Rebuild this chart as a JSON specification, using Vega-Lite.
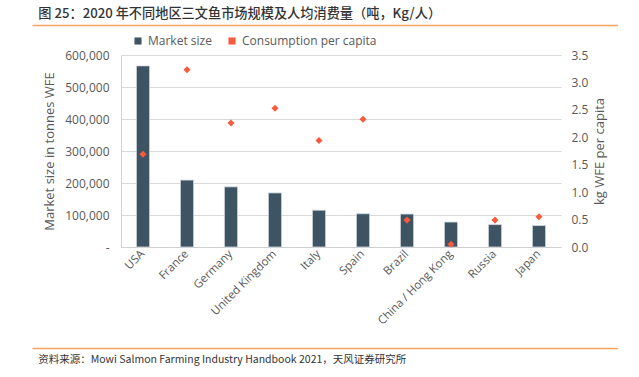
{
  "$schema": "https://vega.github.io/schema/vega-lite/v6.json",
  "background": "white",
  "padding": {"left": 29, "top": 6, "right": 0, "bottom": 0},
  "spacing": 7,
  "config": {"font": "Open Sans", "view": {"stroke": null}},
  "resolve": {"scale": {"x": "independent", "y": "independent", "color": "independent"}, "legend": {"color": "independent"}},
  "vconcat": [
    {
      "width": 586,
      "height": 1,
      "data": {"values": [{"start": 0, "end": 1, "level": 0}]},
      "mark": {"type": "point", "opacity": 0},
      "encoding": {
        "x": {
          "field": "start",
          "type": "quantitative",
          "scale": {"domain": [0, 1]},
          "axis": {"orient": "bottom", "title": null, "labels": false, "ticks": false, "grid": false, "domain": true, "domainColor": "#F5A55F", "domainWidth": 1.5}
        }
      },
      "title": {
        "text": "图 25：2020 年不同地区三文鱼市场规模及人均消费量（吨，Kg/人）",
        "anchor": "start",
        "dx": 9,
        "offset": 1,
        "font": "Noto Sans CJK SC",
        "fontSize": 13.2,
        "fontWeight": 500,
        "color": "#333333"
      }
    },
    {
      "spacing": 10,
      "resolve": {"scale": {"x": "independent", "y": "independent", "color": "independent"}, "legend": {"color": "independent"}},
      "hconcat": [
        {
          "width": 1,
          "height": 1,
          "data": {"values": [{"k": 1}]},
          "mark": {"type": "text", "text": ""},
          "encoding": {}
        },
        {
          "width": 440,
          "height": 192,
          "data": {
            "values": [
              {"country": "USA", "market": 566000, "consumption": 1.69},
              {"country": "France", "market": 209000, "consumption": 3.23},
              {"country": "Germany", "market": 188000, "consumption": 2.26},
              {"country": "United Kingdom", "market": 169000, "consumption": 2.53},
              {"country": "Italy", "market": 115000, "consumption": 1.94},
              {"country": "Spain", "market": 104000, "consumption": 2.33},
              {"country": "Brazil", "market": 103000, "consumption": 0.49},
              {"country": "China / Hong Kong", "market": 78000, "consumption": 0.05},
              {"country": "Russia", "market": 70000, "consumption": 0.49},
              {"country": "Japan", "market": 67000, "consumption": 0.55}
            ]
          },
          "encoding": {
            "x": {
              "field": "country",
              "type": "nominal",
              "sort": null,
              "scale": {"paddingInner": 0, "paddingOuter": 0},
              "axis": {
                "title": null,
                "labelAngle": -45,
                "labelAlign": "right",
                "labelBaseline": "middle",
                "labelFontSize": 11.5,
                "labelColor": "#595959",
                "labelPadding": 5,
                "ticks": false,
                "domainColor": "#d0d0d0",
                "grid": false
              }
            }
          },
          "layer": [
            {
              "mark": {"type": "bar", "width": {"band": 0.3}, "stroke": "#d3dadf", "strokeWidth": 0.8},
              "encoding": {
                "y": {
                  "field": "market",
                  "type": "quantitative",
                  "scale": {"domain": [0, 600000], "nice": false},
                  "axis": {
                    "title": "Market size in tonnes WFE",
                    "titleFont": "Open Sans",
                    "titleFontSize": 13,
                    "titleFontWeight": "normal",
                    "titleColor": "#595959",
                    "titlePadding": 8,
                    "values": [0, 100000, 200000, 300000, 400000, 500000, 600000],
                    "labelExpr": "datum.value == 0 ? '-' : format(datum.value, ',')",
                    "labelFontSize": 12,
                    "labelColor": "#595959",
                    "labelPadding": 12,
                    "ticks": false,
                    "domainColor": "#d0d0d0",
                    "gridColor": "#d9d9d9"
                  }
                },
                "color": {
                  "datum": "Market size",
                  "type": "nominal",
                  "scale": {"domain": ["Market size", "Consumption per capita"], "range": ["#3E5463", "#FA5A3C"]},
                  "legend": {
                    "orient": "none",
                    "legendX": 11,
                    "legendY": -20,
                    "padding": 0,
                    "direction": "horizontal",
                    "title": null,
                    "labelFontSize": 12,
                    "labelColor": "#595959",
                    "labelFont": "Open Sans",
                    "symbolSize": 50,
                    "symbolStrokeWidth": 0,
                    "columnPadding": 14,
                    "labelOffset": 4,
                    "encode": {
                      "symbols": {
                        "update": {
                          "shape": {"signal": "datum.value == 'Market size' ? 'square' : 'diamond'"}
                        }
                      }
                    }
                  }
                }
              }
            },
            {
              "mark": {"type": "point", "shape": "diamond", "filled": true, "size": 50, "opacity": 1},
              "encoding": {
                "y": {
                  "field": "consumption",
                  "type": "quantitative",
                  "scale": {"domain": [0, 3.5], "nice": false},
                  "axis": {
                    "orient": "right",
                    "title": "kg WFE per capita",
                    "titleAngle": 270,
                    "titleBaseline": "top",
                    "titleFont": "Open Sans",
                    "titleFontSize": 13,
                    "titleFontWeight": "normal",
                    "titleColor": "#595959",
                    "titlePadding": 6,
                    "values": [0, 0.5, 1, 1.5, 2, 2.5, 3, 3.5],
                    "format": ".1f",
                    "labelFontSize": 12,
                    "labelColor": "#595959",
                    "labelPadding": 10,
                    "ticks": false,
                    "domain": false,
                    "grid": false
                  }
                },
                "color": {"datum": "Consumption per capita", "type": "nominal"}
              }
            }
          ],
          "resolve": {"scale": {"y": "independent"}}
        }
      ]
    },
    {
      "width": 586,
      "height": 14,
      "data": {"values": [{"start": 0, "end": 1, "level": 0}]},
      "mark": {"type": "point", "opacity": 0},
      "encoding": {
        "x": {
          "field": "start",
          "type": "quantitative",
          "scale": {"domain": [0, 1]},
          "axis": {"orient": "bottom", "title": null, "labels": false, "ticks": false, "grid": false, "domain": true, "domainColor": "#F5A55F", "domainWidth": 1.5}
        }
      },
      "title": {
        "text": "资料来源：Mowi Salmon Farming Industry Handbook 2021，天风证券研究所",
        "orient": "bottom",
        "anchor": "start",
        "dx": 9,
        "offset": 7,
        "font": "Noto Sans CJK SC",
        "fontSize": 10.5,
        "fontWeight": "normal",
        "color": "#333333"
      }
    }
  ]
}
